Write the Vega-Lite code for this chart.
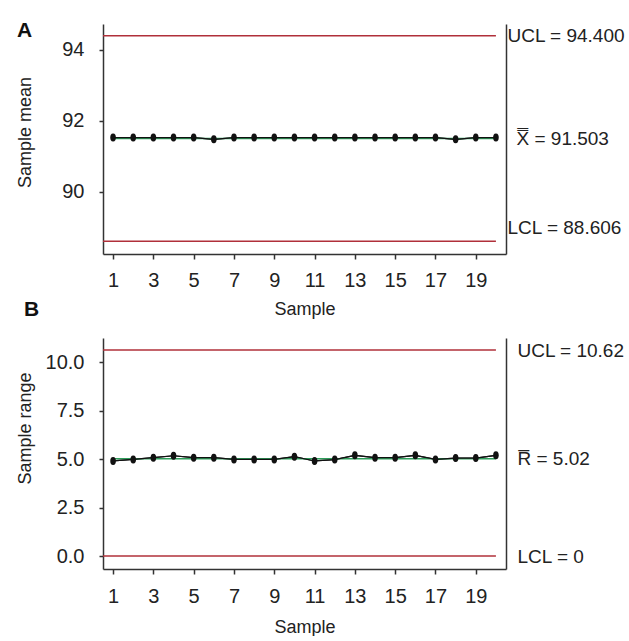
{
  "$schema": "https://vega.github.io/schema/vega-lite/v6.json",
  "autosize": {"type": "pad"},
  "padding": {"left": 15, "top": 20, "right": 0, "bottom": 0},
  "config": {
    "font": "Liberation Sans",
    "view": {"stroke": null},
    "axis": {
      "grid": false,
      "domainColor": "#333333",
      "tickColor": "#333333",
      "domainWidth": 1.5,
      "tickWidth": 1.5,
      "labelColor": "#222222",
      "titleColor": "#222222",
      "labelFontSize": 20,
      "titleFontSize": 18,
      "titleFontWeight": "normal"
    },
    "title": {"fontSize": 21, "fontWeight": "bold", "color": "#111111"}
  },
  "datasets": {
    "means": [
      {"sample": 1, "mean": 91.53}, {"sample": 2, "mean": 91.53}, {"sample": 3, "mean": 91.53},
      {"sample": 4, "mean": 91.53}, {"sample": 5, "mean": 91.53}, {"sample": 6, "mean": 91.48},
      {"sample": 7, "mean": 91.53}, {"sample": 8, "mean": 91.53}, {"sample": 9, "mean": 91.53},
      {"sample": 10, "mean": 91.53}, {"sample": 11, "mean": 91.53}, {"sample": 12, "mean": 91.53},
      {"sample": 13, "mean": 91.53}, {"sample": 14, "mean": 91.53}, {"sample": 15, "mean": 91.53},
      {"sample": 16, "mean": 91.53}, {"sample": 17, "mean": 91.53}, {"sample": 18, "mean": 91.48},
      {"sample": 19, "mean": 91.53}, {"sample": 20, "mean": 91.53}
    ],
    "ranges": [
      {"sample": 1, "range": 4.9}, {"sample": 2, "range": 4.98}, {"sample": 3, "range": 5.07},
      {"sample": 4, "range": 5.17}, {"sample": 5, "range": 5.07}, {"sample": 6, "range": 5.07},
      {"sample": 7, "range": 4.98}, {"sample": 8, "range": 4.98}, {"sample": 9, "range": 4.98},
      {"sample": 10, "range": 5.12}, {"sample": 11, "range": 4.9}, {"sample": 12, "range": 4.97},
      {"sample": 13, "range": 5.19}, {"sample": 14, "range": 5.07}, {"sample": 15, "range": 5.07},
      {"sample": 16, "range": 5.19}, {"sample": 17, "range": 4.98}, {"sample": 18, "range": 5.05},
      {"sample": 19, "range": 5.05}, {"sample": 20, "range": 5.19}
    ],
    "limitsA": [{"line": "UCL", "value": 94.4}, {"line": "LCL", "value": 88.606}],
    "centerA": [{"line": "CL", "value": 91.503}],
    "limitsB": [{"line": "UCL", "value": 10.62}, {"line": "LCL", "value": 0}],
    "centerB": [{"line": "CL", "value": 5.02}]
  },
  "bounds": "flush",
  "spacing": 84,
  "vconcat": [
    {
      "width": 403,
      "height": 230,
      "title": {"text": "A", "anchor": "start", "frame": "group", "dx": -86, "offset": -34, "baseline": "alphabetic"},
      "resolve": {"scale": {"y": "shared"}, "axis": {"y": "independent"}},
      "layer": [
        {
          "data": {"name": "means"},
          "mark": {"type": "line", "color": "#111111", "strokeWidth": 1.2},
          "encoding": {
            "x": {"field": "sample", "type": "quantitative",
              "scale": {"domain": [0.5, 20.5], "nice": false, "zero": false},
              "axis": {"title": "Sample", "values": [1, 3, 5, 7, 9, 11, 13, 15, 17, 19], "tickSize": 5, "labelPadding": 11, "titlePadding": 10, "labelFlush": false}},
            "y": {"field": "mean", "type": "quantitative",
              "scale": {"domain": [88.25, 94.73], "nice": false, "zero": false},
              "axis": {"orient": "left", "title": "Sample mean", "values": [90, 92, 94], "tickSize": 4, "labelPadding": 15, "titleX": -73, "titleY": 108, "titleBaseline": "alphabetic"}}
          }
        },
        {
          "data": {"name": "limitsA"},
          "mark": {"type": "rule", "color": "#b0303a", "strokeWidth": 1.5},
          "encoding": {
            "x": {"datum": 0.5, "type": "quantitative"},
            "x2": {"datum": 20},
            "y": {"field": "value", "type": "quantitative",
              "axis": {"orient": "right", "title": null, "values": [88.606, 91.503, 94.4], "ticks": false, "labelAlign": "left", "labelBaseline": "middle", "labelFontSize": 19, "labelFlush": false, "labelOverlap": false,
                "labelPadding": {"condition": {"test": "datum.value > 91 && datum.value < 92", "value": 10}, "value": 1},
                "labelOffset": {"condition": {"test": "datum.value < 89", "value": -14}, "value": 0},
                "labelExpr": "datum.value > 94 ? 'UCL = 94.400' : (datum.value < 89 ? 'LCL = 88.606' : 'X\u033F = 91.503')"}}
          }
        },
        {
          "data": {"name": "centerA"},
          "mark": {"type": "rule", "color": "#2e9e5b", "strokeWidth": 1.5},
          "encoding": {
            "x": {"datum": 1, "type": "quantitative"},
            "x2": {"datum": 20},
            "y": {"field": "value", "type": "quantitative", "axis": null}
          }
        },
        {
          "data": {"name": "means"},
          "mark": {"type": "line", "color": "#111111", "strokeWidth": 1.2},
          "encoding": {
            "x": {"field": "sample", "type": "quantitative"},
            "y": {"field": "mean", "type": "quantitative", "axis": null}
          }
        },
        {
          "data": {"name": "means"},
          "mark": {"type": "point", "filled": true, "opacity": 1, "color": "#111111", "size": 64,
            "shape": "M0,-1C0.55,-1,0.7,-0.55,0.7,0C0.7,0.55,0.55,1,0,1C-0.55,1,-0.7,0.55,-0.7,0C-0.7,-0.55,-0.55,-1,0,-1Z"},
          "encoding": {
            "x": {"field": "sample", "type": "quantitative"},
            "y": {"field": "mean", "type": "quantitative", "axis": null}
          }
        }
      ]
    },
    {
      "width": 403,
      "height": 231,
      "title": {"text": "B", "anchor": "start", "frame": "group", "dx": -79, "offset": 1, "baseline": "alphabetic"},
      "resolve": {"scale": {"y": "shared"}, "axis": {"y": "independent"}},
      "layer": [
        {
          "data": {"name": "ranges"},
          "mark": {"type": "line", "color": "#111111", "strokeWidth": 1.2},
          "encoding": {
            "x": {"field": "sample", "type": "quantitative",
              "scale": {"domain": [0.5, 20.5], "nice": false, "zero": false},
              "axis": {"title": "Sample", "values": [1, 3, 5, 7, 9, 11, 13, 15, 17, 19], "tickSize": 5, "labelPadding": 12, "titlePadding": 12, "labelFlush": false}},
            "y": {"field": "range", "type": "quantitative",
              "scale": {"domain": [-0.67, 11.24], "nice": false, "zero": false},
              "axis": {"orient": "left", "title": "Sample range", "values": [0, 2.5, 5, 7.5, 10], "format": ".1f", "tickSize": 4, "labelPadding": 15, "titleX": -73, "titleY": 90, "titleBaseline": "alphabetic"}}
          }
        },
        {
          "data": {"name": "limitsB"},
          "mark": {"type": "rule", "color": "#b0303a", "strokeWidth": 1.5},
          "encoding": {
            "x": {"datum": 0.5, "type": "quantitative"},
            "x2": {"datum": 20},
            "y": {"field": "value", "type": "quantitative",
              "axis": {"orient": "right", "title": null, "values": [0, 5.02, 10.62], "ticks": false, "labelPadding": 11, "labelAlign": "left", "labelBaseline": "middle", "labelFontSize": 19, "labelFlush": false, "labelOverlap": false,
                "labelExpr": "datum.value > 10 ? 'UCL = 10.62' : (datum.value < 1 ? 'LCL = 0' : 'R\u0305 = 5.02')"}}
          }
        },
        {
          "data": {"name": "centerB"},
          "mark": {"type": "rule", "color": "#2e9e5b", "strokeWidth": 1.5},
          "encoding": {
            "x": {"datum": 1, "type": "quantitative"},
            "x2": {"datum": 20},
            "y": {"field": "value", "type": "quantitative", "axis": null}
          }
        },
        {
          "data": {"name": "ranges"},
          "mark": {"type": "line", "color": "#111111", "strokeWidth": 1.2},
          "encoding": {
            "x": {"field": "sample", "type": "quantitative"},
            "y": {"field": "range", "type": "quantitative", "axis": null}
          }
        },
        {
          "data": {"name": "ranges"},
          "mark": {"type": "point", "filled": true, "opacity": 1, "color": "#111111", "size": 64,
            "shape": "M0,-1C0.55,-1,0.7,-0.55,0.7,0C0.7,0.55,0.55,1,0,1C-0.55,1,-0.7,0.55,-0.7,0C-0.7,-0.55,-0.55,-1,0,-1Z"},
          "encoding": {
            "x": {"field": "sample", "type": "quantitative"},
            "y": {"field": "range", "type": "quantitative", "axis": null}
          }
        }
      ]
    }
  ]
}
